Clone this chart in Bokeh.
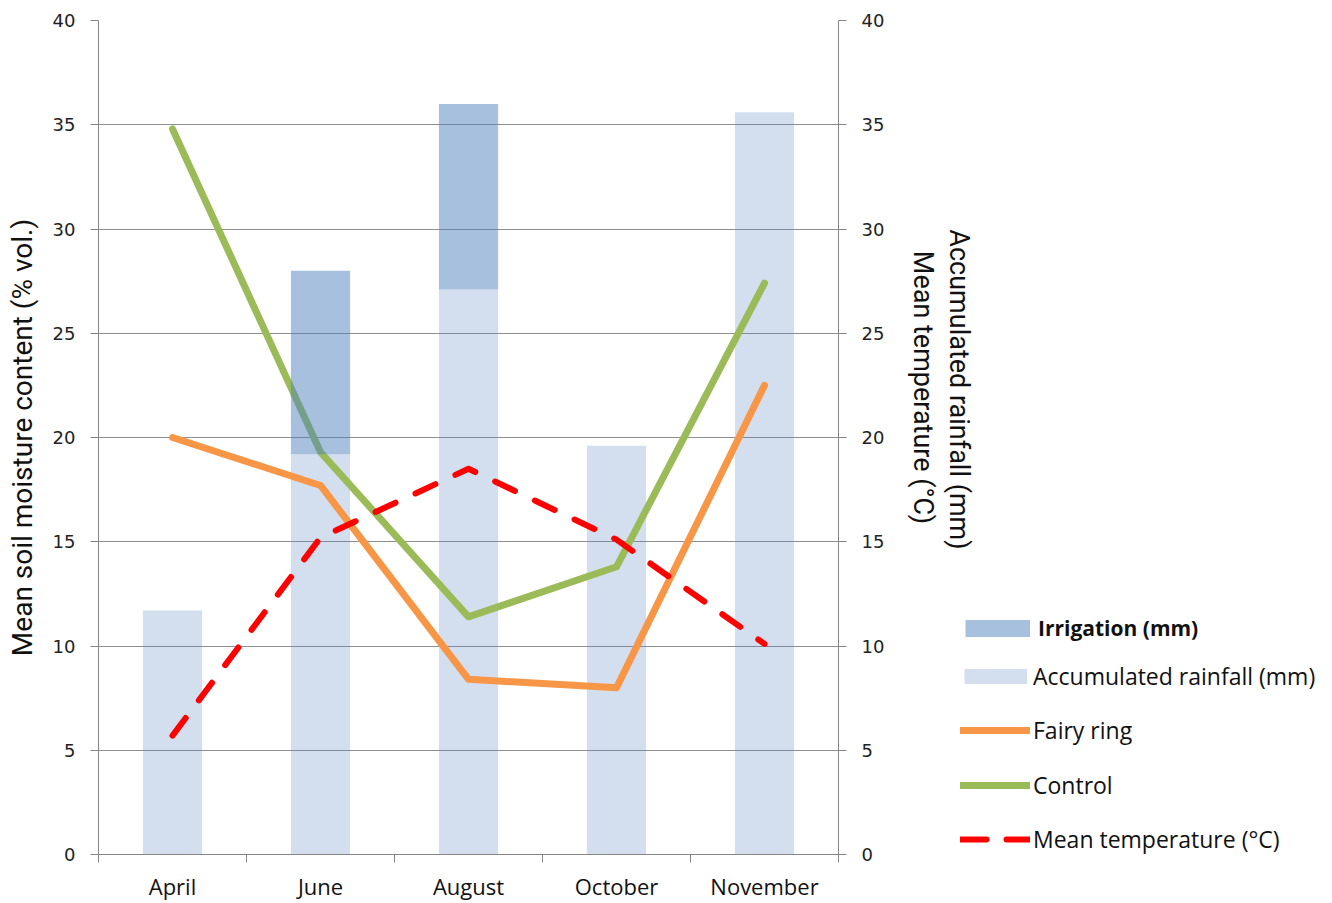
import numpy as np
from math import pi
from bokeh.plotting import figure
from bokeh.layouts import row
from bokeh.models import (Range1d, LinearAxis, FixedTicker, Legend, LegendItem,
                          Label, ColumnDataSource)
from bokeh.embed import file_html
from bokeh.resources import INLINE

months = ["April", "June", "August", "October", "November"]
rainfall = [11.7, 19.2, 27.1, 19.6, 35.6]
irrigation = [0.0, 8.8, 8.9, 0.0, 0.0]
fairy_ring = [20.0, 17.7, 8.4, 8.0, 22.5]
control = [34.8, 19.3, 11.4, 13.8, 27.4]
temperature = [5.7, 15.2, 18.5, 15.1, 10.1]
y_ticks = [0, 5, 10, 15, 20, 25, 30, 35, 40]

xpos = np.arange(len(months)) + 0.5
bounds = list(np.arange(len(months) + 1).astype(float))
src = ColumnDataSource(dict(
    x=xpos, rain=rainfall,
    irr_bottom=rainfall,
    irr_top=list(np.array(rainfall) + np.array(irrigation)),
    fairy=fairy_ring, control=control, temp=temperature))

AX = "#868686"
BLUE = "#4F81BD"
ORANGE = "#F79646"
GREEN = "#9BBB59"
RED = "#FF0000"
TXT = "#111111"

TOP, BOTTOM, H = 20, 49, 903

p = figure(width=898, height=H, x_range=Range1d(0, len(months)), y_range=Range1d(0, 40),
           output_backend="svg", toolbar_location=None,
           min_border_left=98, min_border_right=60, min_border_top=TOP, min_border_bottom=BOTTOM)
p.extra_y_ranges = {"right": Range1d(0, 40)}
p.outline_line_color = None

# x axis: labels at category centres, tick marks at category boundaries
p.xaxis.ticker = FixedTicker(ticks=list(xpos), minor_ticks=bounds)
p.xaxis.major_label_overrides = {float(v): m for v, m in zip(xpos, months)}
p.xaxis.major_tick_line_color = None
p.xaxis.major_tick_out = 0
p.xaxis.major_tick_in = 0
p.xaxis.minor_tick_out = 8
p.xaxis.minor_tick_in = 0
p.xaxis.minor_tick_line_color = AX
p.xaxis.axis_line_color = AX
p.xaxis.major_label_text_font = "Open Sans"
p.xaxis.major_label_text_font_size = "22px"
p.xaxis.major_label_text_color = TXT
p.xaxis.major_label_standoff = 8

p.yaxis.ticker = FixedTicker(ticks=y_ticks)
right = LinearAxis(y_range_name="right", ticker=FixedTicker(ticks=y_ticks))
p.add_layout(right, "right")
for ax in (p.yaxis[0], right):
    ax.axis_line_color = AX
    ax.major_tick_line_color = AX
    ax.major_tick_out = 8
    ax.major_tick_in = 0
    ax.minor_tick_line_color = None
    ax.major_label_text_font = "DejaVu Sans"
    ax.major_label_text_font_size = "18px"
    ax.major_label_text_color = "#222222"
    ax.major_label_standoff = 15

p.yaxis[0].axis_label = "Mean soil moisture content (% vol.)"
p.yaxis[0].axis_label_text_font = "Roboto"
p.yaxis[0].axis_label_text_font_size = "28px"
p.yaxis[0].axis_label_text_font_style = "normal"
p.yaxis[0].axis_label_text_color = TXT
p.yaxis[0].axis_label_standoff = 11

p.xgrid.visible = False
p.ygrid.ticker = FixedTicker(ticks=y_ticks)
p.ygrid.grid_line_color = "#8f8f8f"
p.ygrid.grid_line_width = 1

# bars: rainfall (below), lines, irrigation (semi-transparent, on top)
p.vbar(x="x", top="rain", bottom=0, width=0.4, source=src, fill_color=BLUE,
       fill_alpha=0.25, line_color=None, y_range_name="right")
p.line("x", "fairy", source=src, line_color=ORANGE, line_width=7,
       line_cap="round", line_join="round")
p.line("x", "control", source=src, line_color=GREEN, line_width=7,
       line_cap="round", line_join="round")
p.line("x", "temp", source=src, line_color=RED, line_width=6,
       line_dash="22 22", line_cap="round", line_join="round", y_range_name="right")
p.vbar(x="x", top="irr_top", bottom="irr_bottom", width=0.4, source=src, fill_color=BLUE,
       fill_alpha=0.5, line_color=None, y_range_name="right")

# side panel: right-axis titles and legend (frame aligned with the main frame)
W2 = 434
X0 = 898  # left edge of the side panel on the page
q = figure(width=W2, height=H, x_range=Range1d(0, W2), y_range=Range1d(BOTTOM, H - TOP),
           output_backend="svg", toolbar_location=None, x_axis_type=None, y_axis_type=None,
           min_border_left=0, min_border_right=0, min_border_top=TOP,
           min_border_bottom=BOTTOM)
q.outline_line_color = None
q.grid.visible = False

q.add_layout(Label(x=958 - X0, y=H - 389, text="Accumulated rainfall (mm)",
                   angle=-pi / 2, text_align="center", text_baseline="middle",
                   text_font="Roboto", text_font_size="27px", text_color=TXT))
q.add_layout(Label(x=922 - X0, y=H - 387, text="Mean temperature (°C)",
                   angle=-pi / 2, text_align="center", text_baseline="middle",
                   text_font="Roboto", text_font_size="27px", text_color=TXT))

hx, hy = [-50, -40], [-50, -50]  # off-frame stubs that only feed the legend glyphs
leg_irr = q.line(hx, hy, line_color=BLUE, line_alpha=0.5, line_width=17, line_cap="butt")
leg_rain = q.line(hx, hy, line_color=BLUE, line_alpha=0.25, line_width=15, line_cap="butt")
leg_fairy = q.line(hx, hy, line_color=ORANGE, line_width=7, line_cap="round")
leg_ctrl = q.line(hx, hy, line_color=GREEN, line_width=7, line_cap="round")
leg_temp = q.line(hx, hy, line_color=RED, line_width=6, line_dash="26 20", line_cap="round")

legend_specs = [
    ("Irrigation (mm)", leg_irr, 65, 965, 628, 8, "bold", "21px"),
    ("Accumulated rainfall (mm)", leg_rain, 63, 964, 677, 6, "normal", "23px"),
    ("Fairy ring", leg_fairy, 70, 960, 731, 3, "normal", "23px"),
    ("Control", leg_ctrl, 70, 960, 786, 3, "normal", "23px"),
    ("Mean temperature (°C)", leg_temp, 70, 960, 840, 3, "normal", "23px"),
]
frame_bottom = H - BOTTOM
for text, r, gw, gx, cy, so, style, fs in legend_specs:
    lg = Legend(items=[LegendItem(label=text, renderers=[r])],
                location=(gx - X0, frame_bottom - cy - 15),
                glyph_width=gw, glyph_height=30, label_height=30, label_standoff=so,
                padding=0, margin=0, spacing=0, border_line_color=None,
                background_fill_alpha=0, label_text_font="Open Sans",
                label_text_font_size=fs, label_text_color=TXT,
                label_text_font_style=style)
    q.add_layout(lg, "center")

layout = row(p, q, spacing=0)
open("out.html", "w").write(file_html(layout, INLINE))
